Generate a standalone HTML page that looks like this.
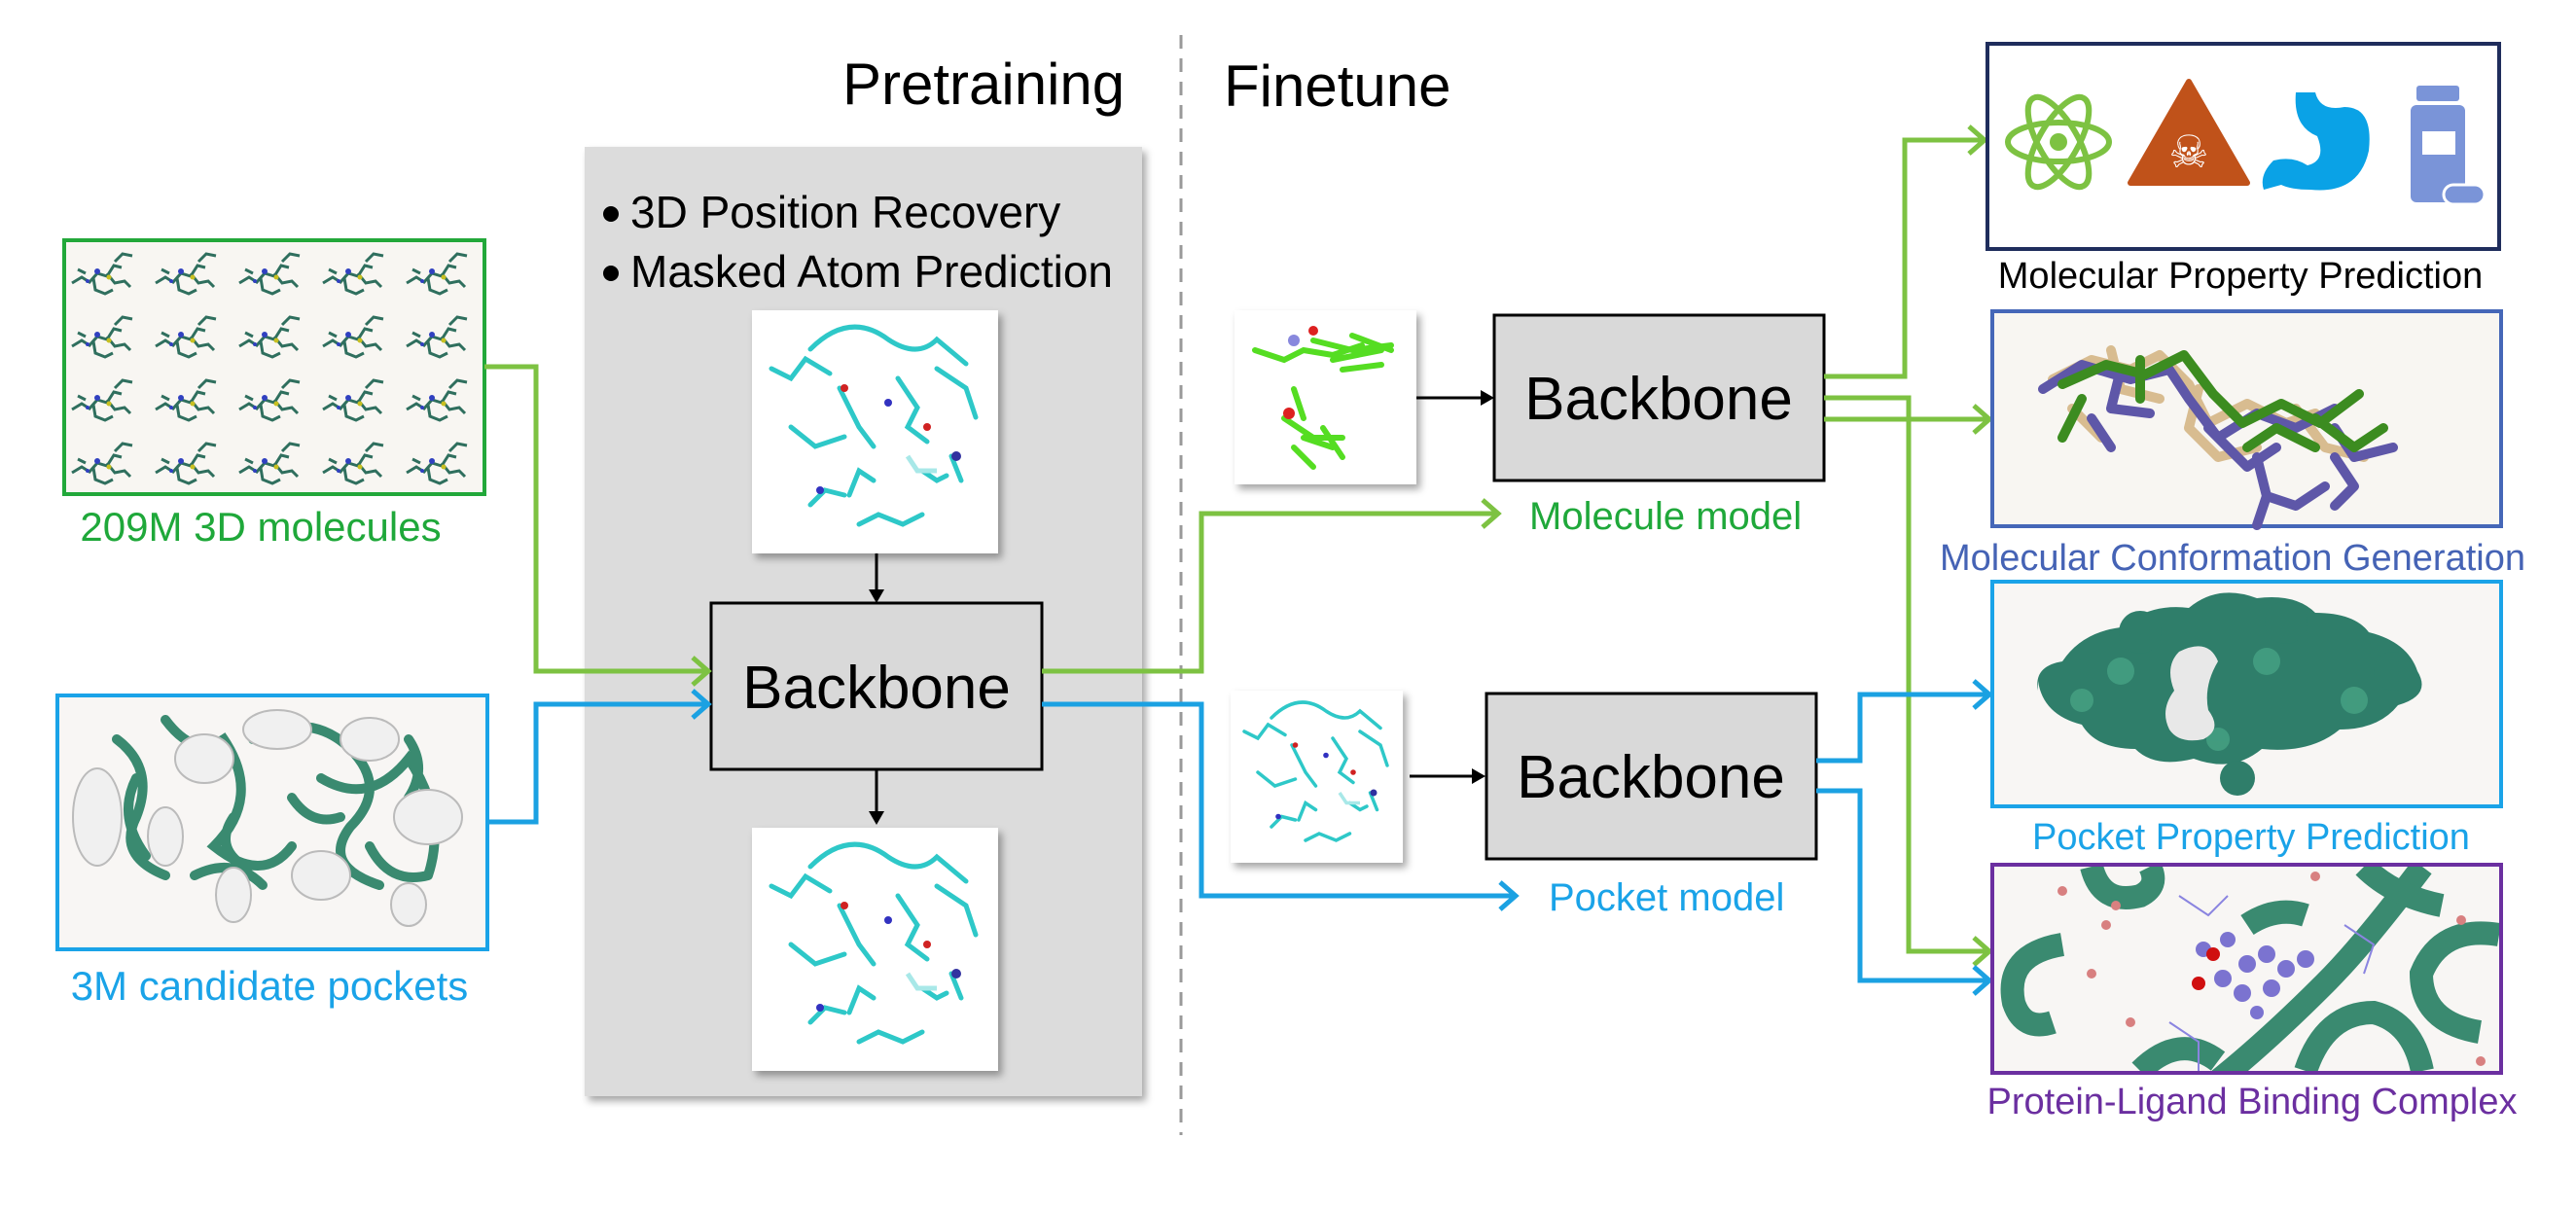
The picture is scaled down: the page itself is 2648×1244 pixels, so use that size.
<!DOCTYPE html>
<html><head><meta charset="utf-8"><style>
html,body{margin:0;padding:0;background:#fff;}
svg{display:block;}
text{font-family:"Liberation Sans",sans-serif;}
</style></head><body>
<svg width="2648" height="1244" viewBox="0 0 2648 1244" xmlns="http://www.w3.org/2000/svg">
<defs>
<filter id="sh" x="-5%" y="-5%" width="115%" height="115%"><feDropShadow dx="4" dy="5" stdDeviation="4" flood-color="#000" flood-opacity="0.35"/></filter>
<pattern id="mols" x="66" y="247" width="86" height="65" patternUnits="userSpaceOnUse">
<path d="M8 44 l10-6 8 5 8-9 10 3 7-11 8 2 M30 39 l2 12 10 4 8-4 M44 34 l8 10 10-2 6 6 M52 22 l8-8 10 2 M14 30 l8 4" stroke="#2f6f5e" stroke-width="3" fill="none"/>
<circle cx="34" cy="32" r="3" fill="#3040c0"/><circle cx="46" cy="38" r="2.5" fill="#c8c020"/><circle cx="24" cy="42" r="2" fill="#3040c0"/>
</pattern>
<g id="pep">
<rect width="253" height="250" fill="#fff"/>
<path d="M20 60 l20 10 15-20 25 15 M60 40 q40-40 80-10 q30 20 50 0 l30 25 M40 120 l25 20 30-10 M90 80 l20 40 15 20 M150 70 l20 30 -10 20 20 15 M190 60 l30 20 10 30 M60 200 l15-15 20 5 M100 190 l10-25 15 10 M110 220 l20-10 25 10 20-10 M175 165 l15 10 10-5 M205 150 l10 25" stroke="#2ec8c8" stroke-width="5" fill="none" stroke-linecap="round"/>
<path d="M160 150 l10 15 20 0" stroke="#a8e8e8" stroke-width="5" fill="none"/>
<circle cx="95" cy="80" r="4" fill="#d02020"/><circle cx="140" cy="95" r="4" fill="#3030c0"/><circle cx="180" cy="120" r="4" fill="#d02020"/><circle cx="70" cy="185" r="4" fill="#3030c0"/><circle cx="210" cy="150" r="5" fill="#3030a0"/>
</g>
</defs>

<text x="866" y="107" font-size="60" fill="#000">Pretraining</text>
<text x="1258" y="109" font-size="60" fill="#000">Finetune</text>
<line x1="1214" y1="36" x2="1214" y2="1167" stroke="#999" stroke-width="3" stroke-dasharray="14,10"/>

<rect x="601" y="151" width="573" height="976" fill="#dcdcdc" filter="url(#sh)"/>
<circle cx="628" cy="220" r="8" fill="#000"/><text x="648" y="234" font-size="46">3D Position Recovery</text>
<circle cx="628" cy="281" r="8" fill="#000"/><text x="648" y="295" font-size="46">Masked Atom Prediction</text>
<use href="#pep" x="773" y="319" filter="url(#sh)"/>
<use href="#pep" x="773" y="851" filter="url(#sh)"/>
<line x1="901" y1="569" x2="901" y2="610" stroke="#000" stroke-width="3"/><path d="M893 606 L901 620 L909 606Z"/>
<line x1="901" y1="791" x2="901" y2="838" stroke="#000" stroke-width="3"/><path d="M893 834 L901 848 L909 834Z"/>
<rect x="731" y="620" width="340" height="171" fill="#d9d9d9" stroke="#000" stroke-width="3"/>
<text x="901" y="728" font-size="62" text-anchor="middle">Backbone</text>

<rect x="66" y="247" width="432" height="261" fill="#f8f6f2" stroke="#22a83a" stroke-width="4"/>
<rect x="70" y="251" width="424" height="253" fill="url(#mols)"/>
<text x="268" y="556" font-size="42" fill="#1fa83a" text-anchor="middle">209M 3D molecules</text>
<rect x="59" y="715" width="442" height="261" fill="#f8f6f4" stroke="#1aa3e8" stroke-width="4"/>
<g stroke="#3a8a70" stroke-width="10" fill="none" stroke-linecap="round">
<path d="M120 760 q40 30 20 80 q-20 40 30 60 M170 740 q30 40 60 20 q40 60 -10 110 q50 40 80 0 M260 760 q60-30 100 10 q40 40 0 80 q-30 40 30 60 M330 800 q50 30 90 -20 q40 60 20 120 M380 870 q20 40 60 30 M200 900 q40 -20 70 10 M420 760 q20 30 0 60 M140 800 q-20 40 10 80 M300 820 q20 30 50 20 M240 840 q-20 30 10 50"/>
</g>
<g fill="#f0f0f0" stroke="#bbb" stroke-width="2">
<ellipse cx="100" cy="840" rx="25" ry="50"/><ellipse cx="210" cy="780" rx="30" ry="25"/><ellipse cx="285" cy="750" rx="35" ry="20"/><ellipse cx="380" cy="760" rx="30" ry="22"/><ellipse cx="440" cy="840" rx="35" ry="28"/><ellipse cx="330" cy="900" rx="30" ry="25"/><ellipse cx="240" cy="920" rx="18" ry="28"/><ellipse cx="420" cy="930" rx="18" ry="22"/><ellipse cx="170" cy="860" rx="18" ry="30"/>
</g>
<text x="277" y="1028" font-size="42" fill="#1aa3e8" text-anchor="middle">3M candidate pockets</text>

<g fill="none" stroke-width="5">
<path d="M498 377 H551 V690 H728" stroke="#7dc242"/>
<path d="M712 676 L728 690 L712 704" stroke="#7dc242"/>
<path d="M501 845 H551 V724 H728" stroke="#1ba1e2"/>
<path d="M712 710 L728 724 L712 738" stroke="#1ba1e2"/>
<path d="M1071 690 H1235 V528 H1540" stroke="#7dc242"/>
<path d="M1524 514 L1540 528 L1524 542" stroke="#7dc242"/>
<path d="M1071 724 H1235 V921 H1558" stroke="#1ba1e2"/>
<path d="M1542 907 L1558 921 L1542 935" stroke="#1ba1e2"/>
</g>
<text x="1572" y="544" font-size="40" fill="#1fa83a">Molecule model</text>
<text x="1592" y="936" font-size="40" fill="#1aa3e8">Pocket model</text>

<g filter="url(#sh)"><rect x="1269" y="319" width="187" height="179" fill="#fff"/></g>
<g stroke="#55dd22" stroke-width="6" fill="none" stroke-linecap="round">
<path d="M1290 360 l30 10 20-10 30 5 30-10 M1350 350 l40 10 40-5 M1370 370 l50-10 M1390 345 l40 15 M1380 380 l40-5 M1330 400 l10 30 M1320 430 l30 20 30 0 M1330 460 l20 20 M1360 440 l20 30 M1340 450 l30 10"/>
</g>
<circle cx="1330" cy="350" r="6" fill="#8888dd"/><circle cx="1350" cy="340" r="5" fill="#dd2020"/><circle cx="1325" cy="425" r="6" fill="#dd2020"/>
<line x1="1456" y1="409" x2="1526" y2="409" stroke="#000" stroke-width="3"/><path d="M1522 401 L1536 409 L1522 417Z"/>
<rect x="1536" y="324" width="339" height="170" fill="#d9d9d9" stroke="#000" stroke-width="3"/>
<text x="1705" y="431" font-size="62" text-anchor="middle">Backbone</text>

<g filter="url(#sh)"><rect x="1265" y="710" width="177" height="177" fill="#fff"/></g>
<g transform="translate(1265,710) scale(0.7)"><use href="#pep"/></g>
<line x1="1449" y1="798" x2="1517" y2="798" stroke="#000" stroke-width="3"/><path d="M1513 790 L1527 798 L1513 806Z"/>
<rect x="1528" y="713" width="339" height="170" fill="#d9d9d9" stroke="#000" stroke-width="3"/>
<text x="1697" y="820" font-size="62" text-anchor="middle">Backbone</text>

<g fill="none" stroke-width="5">
<path d="M1875 387 H1958 V144 H2040" stroke="#7dc242"/><path d="M2024 130 L2040 144 L2024 158" stroke="#7dc242"/>
<path d="M1875 409 H1962 V978 H2045" stroke="#7dc242"/><path d="M2029 964 L2045 978 L2029 992" stroke="#7dc242"/>
<path d="M1875 431 H2045" stroke="#7dc242"/><path d="M2029 417 L2045 431 L2029 445" stroke="#7dc242"/>
<path d="M1867 782 H1912 V714 H2045" stroke="#1ba1e2"/><path d="M2029 700 L2045 714 L2029 728" stroke="#1ba1e2"/>
<path d="M1867 813 H1912 V1008 H2045" stroke="#1ba1e2"/><path d="M2029 994 L2045 1008 L2029 1022" stroke="#1ba1e2"/>
</g>

<rect x="2043" y="45" width="526" height="211" fill="#fff" stroke="#1f2d5c" stroke-width="4"/>
<g fill="none" stroke="#7dc242" stroke-width="6">
<ellipse cx="2116" cy="146" rx="52" ry="20"/><ellipse cx="2116" cy="146" rx="52" ry="20" transform="rotate(60 2116 146)"/><ellipse cx="2116" cy="146" rx="52" ry="20" transform="rotate(-60 2116 146)"/>
</g><circle cx="2116" cy="146" r="9" fill="#7dc242"/>
<path d="M2250 84 L2310 188 L2190 188 Z" fill="#c0521a" stroke="#c0521a" stroke-width="6" stroke-linejoin="round"/>
<text x="2250" y="172" font-size="46" fill="#fff" text-anchor="middle">☠</text>
<path d="M2360 95 h20 q5 20 30 15 q30 0 25 45 q-10 45 -60 40 q-20 0 -30 -5 l-18 5 q-5-15 10-30 q20 -5 35 5 q20 -5 10 -30 q-25 -10 -22 -45z" fill="#0aa2e6"/>
<rect x="2484" y="88" width="44" height="16" rx="3" fill="#7a94d8"/>
<rect x="2478" y="108" width="56" height="100" rx="6" fill="#7a94d8"/>
<rect x="2490" y="135" width="34" height="24" fill="#fff"/>
<rect x="2512" y="190" width="42" height="20" rx="10" fill="#7a94d8" stroke="#fff" stroke-width="3"/>
<text x="2303" y="296" font-size="38" fill="#000" text-anchor="middle">Molecular Property Prediction</text>

<rect x="2048" y="320" width="523" height="221" fill="#f8f6f2" stroke="#4567b8" stroke-width="4"/>
<g fill="none" stroke-width="10" stroke-linecap="round" stroke-linejoin="round">
<path d="M2110 390 l40-20 40 10 30-15 30 30 20 40 40-20 40 20 30-10 M2130 420 l30 30 M2260 400 l-10 40 30 30 40 -10 M2170 360 l10 40 40 10 M2360 420 l30 40 40 10" stroke="#d8bc90"/>
<path d="M2100 400 l40-25 50 15 40-10 20 30 30 40 40-25 40 15 40-20 M2150 430 l20 30 M2270 440 l40 40 30-20 M2180 380 l-10 40 40 5 M2400 440 l20 30 40-10" stroke="#5e57a8"/>
<path d="M2120 395 l45-20 40 10 40-20 30 40 30 30 40-20 40 20 40-30 M2140 410 l-20 40 M2310 460 l30-20 40 20 M2200 370 l0 40 M2380 430 l40 30 30-20" stroke="#3c8c20"/>
<path d="M2320 470 l10 40 30 10 30-20 M2330 510 l-10 30 M2400 470 l20 30 -20 20" stroke="#5e57a8"/>
</g>
<text x="2295" y="586" font-size="38" fill="#4563b5" text-anchor="middle">Molecular Conformation Generation</text>

<rect x="2048" y="598" width="523" height="231" fill="#f8f6f4" stroke="#1aa3e8" stroke-width="4"/>
<g fill="#2f7e6a">
<path d="M2095 710 q-5-25 25-30 q20-30 60-35 q30-25 70-20 q30-25 70-10 q40-5 60 15 q40 0 55 20 q40 10 50 40 q15 25 -20 35 q-20 25 -60 25 q-30 25 -80 20 q-30 25 -70 10 q-40 10 -60-10 q-40 0 -55-25 q-40-10 -45-45z"/>
<circle cx="2200" cy="650" r="22"/><circle cx="2350" cy="640" r="22"/><circle cx="2300" cy="800" r="18"/><circle cx="2460" cy="690" r="20"/>
</g>
<g fill="#4aa888" opacity="0.7"><circle cx="2180" cy="690" r="14"/><circle cx="2330" cy="680" r="14"/><circle cx="2420" cy="720" r="14"/><circle cx="2140" cy="720" r="12"/><circle cx="2280" cy="760" r="12"/></g>
<path d="M2240 670 q30 -15 40 10 q-15 25 -10 50 q15 20 -5 30 q-25 5 -35 -10 q-10-20 5-40 q-10-25 5-40z" fill="#e8e8e8"/>
<text x="2314" y="873" font-size="38" fill="#1aa3e8" text-anchor="middle">Pocket Property Prediction</text>

<rect x="2048" y="889" width="523" height="214" fill="#f8f6f4" stroke="#6b2fa0" stroke-width="4"/>
<svg x="2050" y="891" width="519" height="210" overflow="hidden">
<g fill="none" stroke="#3a8a70" stroke-width="24">
<path d="M70 80 q-60 10 -50 60 q10 30 40 20"/>
<path d="M100 0 q10 40 50 30 q20-10 10-30"/>
<path d="M440 0 q-60 80 -100 120 q-60 60 -110 100"/>
<path d="M519 70 q-60 -10 -80 40 q0 50 60 60"/>
<path d="M260 60 q30 -20 60 -10"/>
<path d="M380 0 q30 30 80 40"/>
<path d="M150 210 q40 -40 80 -10"/>
<path d="M320 210 q20 -60 70 -60 q40 10 50 60"/>
</g>
<g fill="#7b73d0"><circle cx="215" cy="85" r="8"/><circle cx="240" cy="75" r="8"/><circle cx="260" cy="100" r="9"/><circle cx="280" cy="90" r="9"/><circle cx="300" cy="105" r="9"/><circle cx="285" cy="125" r="9"/><circle cx="255" cy="130" r="9"/><circle cx="235" cy="115" r="9"/><circle cx="320" cy="95" r="9"/><circle cx="270" cy="150" r="7"/></g>
<circle cx="225" cy="90" r="7" fill="#d01010"/><circle cx="210" cy="120" r="7" fill="#d01010"/>
<g fill="none" stroke="#8a84e0" stroke-width="2"><path d="M180 160 l30 20 0 30 M360 60 l30 20 -10 30 M190 30 l30 20 20 -20"/></g>
<g fill="#d88080"><circle cx="70" cy="25" r="5"/><circle cx="125" cy="40" r="5"/><circle cx="115" cy="60" r="5"/><circle cx="100" cy="110" r="5"/><circle cx="140" cy="160" r="5"/><circle cx="480" cy="55" r="5"/><circle cx="500" cy="200" r="5"/><circle cx="330" cy="10" r="5"/></g>
</svg>
<text x="2315" y="1145" font-size="38" fill="#6b2fa0" text-anchor="middle">Protein-Ligand Binding Complex</text>
</svg>
</body></html>
